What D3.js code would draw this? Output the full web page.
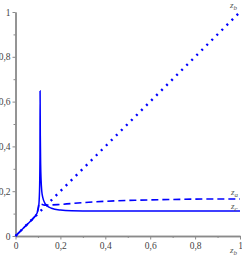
<!DOCTYPE html>
<html>
<head>
<meta charset="utf-8">
<script src="https://cdn.jsdelivr.net/npm/d3@7/dist/d3.min.js"></script>
<style>
  body { margin: 0; background: #fff; }
  svg { display: block; }
</style>
</head>
<body>
<svg id="chart" width="242" height="256"></svg>
<script>
// z_b (dotted) is the diagonal
var zbX = [0, 1];
var zbY = [0, 1];

// z_a (dashed)
var zaX = [0, 0.05, 0.085, 0.095, 0.101, 0.105, 0.115, 0.13, 0.2, 0.3, 0.4, 0.55, 0.7, 0.85, 1];
var zaY = [0, 0.05, 0.086, 0.1, 0.125, 0.145, 0.142, 0.138, 0.141, 0.149, 0.155, 0.16, 0.163, 0.165, 0.165];

// z_c (solid), spike near 0.11
var zcX = [0, 0.04, 0.08, 0.095, 0.103, 0.107, 0.109, 0.1095, 0.1105, 0.112, 0.114, 0.117, 0.122, 0.13, 0.14, 0.16, 0.2, 0.25, 0.35, 0.6, 1];
var zcY = [0, 0.04, 0.08, 0.1, 0.13, 0.2, 0.35, 0.647, 0.45, 0.32, 0.25, 0.2, 0.17, 0.148, 0.135, 0.124, 0.116, 0.113, 0.112, 0.112, 0.112];

var majorTicks = [0, 0.2, 0.4, 0.6, 0.8, 1];
var minorTicks = [0.1, 0.3, 0.5, 0.7, 0.9];

var svg = d3.select("#chart");
var x = d3.scaleLinear().domain([0, 1]).range([15.5, 240]);
var y = d3.scaleLinear().domain([0, 1]).range([236, 12]);
var fmt = function (d) { return String(d).replace(".", ","); };

function styleAxis(g) {
  g.selectAll("path, line").attr("stroke", "#8a8a8a");
  g.select(".domain").attr("stroke-width", 1.4);
  g.selectAll("text").attr("fill", "#444").attr("font-family", "Liberation Serif, serif").attr("font-size", 9.5);
}

svg.append("g").attr("transform", "translate(0,236)")
  .call(d3.axisBottom(x).tickValues(minorTicks).tickSize(2).tickSizeOuter(0).tickFormat(""))
  .call(styleAxis);
svg.append("g").attr("transform", "translate(0,236)")
  .call(d3.axisBottom(x).tickValues(majorTicks).tickSize(3.5).tickSizeOuter(0).tickPadding(3).tickFormat(fmt))
  .call(styleAxis);
svg.append("g").attr("transform", "translate(15.5,0)")
  .call(d3.axisLeft(y).tickValues(minorTicks).tickSize(2).tickSizeOuter(0).tickFormat(""))
  .call(styleAxis);
svg.append("g").attr("transform", "translate(15.5,0)")
  .call(d3.axisLeft(y).tickValues(majorTicks).tickSize(3).tickSizeOuter(0).tickPadding(2).tickFormat(fmt))
  .call(styleAxis);

function pts(xs, ys) { return xs.map(function (v, i) { return [v, ys[i]]; }); }
var line = d3.line().x(function (d) { return x(d[0]); }).y(function (d) { return y(d[1]); }).curve(d3.curveMonotoneX);

svg.append("path").datum(pts(zbX, zbY)).attr("d", line)
  .attr("fill", "none").attr("stroke", "#0000ff").attr("stroke-width", 2.4)
  .attr("stroke-dasharray", "2 5.1");
svg.append("path").datum(pts(zaX, zaY)).attr("d", line)
  .attr("fill", "none").attr("stroke", "#0000ff").attr("stroke-width", 1.6)
  .attr("stroke-dasharray", "7 4");
svg.append("path").datum(pts(zcX, zcY)).attr("d", line)
  .attr("fill", "none").attr("stroke", "#0000ff").attr("stroke-width", 1.5);

function zlabel(px, py, sub) {
  var t = svg.append("text").attr("x", px).attr("y", py)
    .attr("font-family", "Liberation Serif, serif").attr("font-style", "italic")
    .attr("font-size", 9).attr("fill", "#555");
  t.append("tspan").text("z");
  t.append("tspan").attr("font-size", 7).attr("dy", 2).text(sub);
}
zlabel(230, 8, "b");
zlabel(231, 195, "a");
zlabel(231, 209, "c");
zlabel(230, 253, "b");
</script>
</body>
</html>
